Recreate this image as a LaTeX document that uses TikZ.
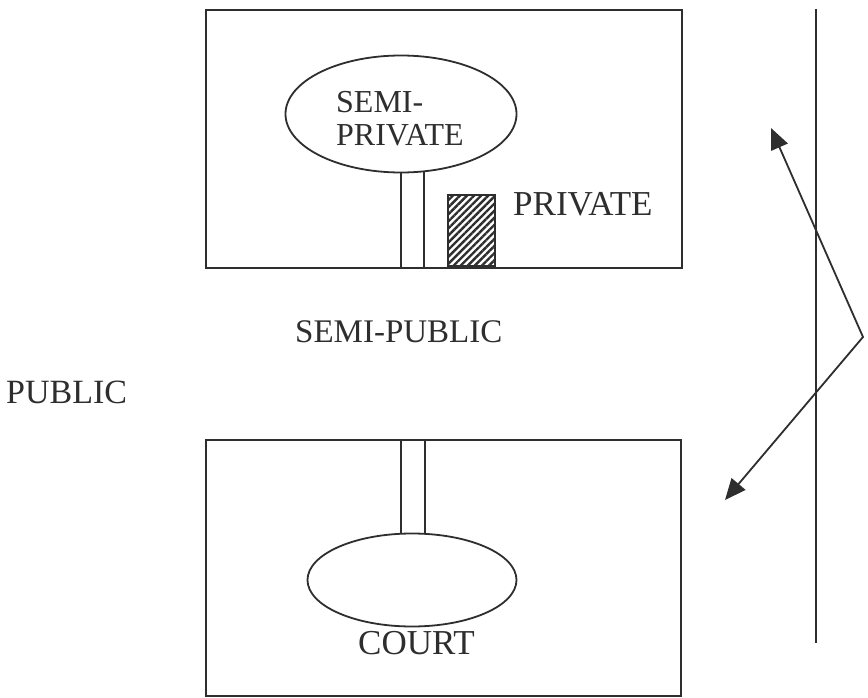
\documentclass[tikz,border=0pt]{standalone}
\usepackage{fontspec}
\setmainfont{Liberation Serif}
\usetikzlibrary{arrows.meta,patterns.meta,shapes.geometric}
\definecolor{ink}{HTML}{2E2E2E}
\begin{document}
\begin{tikzpicture}[x=1pt,y=-1pt,
  ln/.style={draw=ink,line width=1.8pt},
  boxshape/.style={ln,rectangle,inner sep=0pt,anchor=north west},
  oval/.style={ln,ellipse,inner sep=0pt,fill=white},
  lbl/.style={inner sep=0pt,anchor=base west,text=ink}]
\useasboundingbox[fill=white] (0,0) rectangle (868,698);

% top block
\node[boxshape,minimum width=476pt,minimum height=258pt] (top) at (205,9) {};
\coordinate (c1a) at (401,150); \coordinate (c1b) at (424,150);
\draw[ln] (c1a) -- (c1a |- top.south);
\draw[ln] (c1b) -- (c1b |- top.south);
\node[oval,minimum width=231pt,minimum height=117pt] (semipriv) at (401,114) {};
\node[inner sep=0pt,anchor=north west,align=left,text=ink,font=\fontsize{32}{33}\selectfont] (semiprivtxt) at (336,91) {SEMI-\\PRIVATE};
\node[ln,rectangle,inner sep=0pt,anchor=south west,minimum width=47pt,minimum height=71pt,
  pattern={Lines[angle=45,distance=5pt,line width=2.4pt]},pattern color=ink] (hatch) at (447,267) {};
\node[lbl,font=\fontsize{35}{40}\selectfont] (private) at (513,215) {PRIVATE};

% middle labels
\node[lbl,font=\fontsize{33}{38}\selectfont] (semipublic) at (295,342) {SEMI-PUBLIC};
\node[lbl,font=\fontsize{34}{38}\selectfont] (public) at (6,403) {PUBLIC};

% bottom block
\node[boxshape,minimum width=475pt,minimum height=256pt] (bot) at (205,439) {};
\coordinate (c2a) at (401,560); \coordinate (c2b) at (425,560);
\draw[ln] (c2a) -- (c2a |- bot.north);
\draw[ln] (c2b) -- (c2b |- bot.north);
\node[oval,minimum width=209pt,minimum height=93pt] (court) at (412,580) {};
\node[lbl,font=\fontsize{35}{40}\selectfont] (courttxt) at (358,654) {COURT};

% right side
\coordinate (vt) at (816,9); \coordinate (vb) at (816,643);
\draw[ln] (vt) -- (vb);
\coordinate (apex) at (863,337);
\coordinate (a1) at (771,128);
\coordinate (a2) at (725,500);
\draw[ln,line join=miter,{Triangle[length=21pt,width=18pt]}-{Triangle[length=21pt,width=18pt]}] (a1) -- (apex) -- (a2);
\end{tikzpicture}
\end{document}
